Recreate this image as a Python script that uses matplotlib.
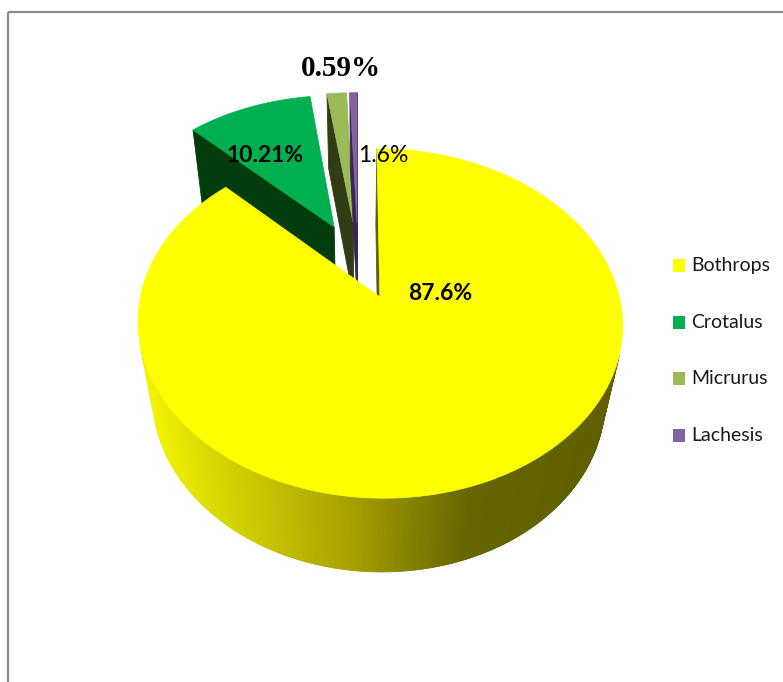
import numpy as np
import matplotlib.pyplot as plt
from matplotlib.patches import Polygon, Rectangle

species = ['Bothrops', 'Crotalus', 'Micrurus', 'Lachesis']
share = [87.6, 10.21, 1.6, 0.59]
top_colors = ['#ffff00', '#00b050', '#9bbb59', '#8064a2']
cut_colors = ['#5f5f00', '#003c0c', '#323c14', '#3a2458']

# where each percentage label sits (pixels) and how it is written
label_xy = [(440, 293), (265, 156), (383, 155), (341, 68)]
label_font = [
    dict(family='Lato', weight='bold', size=16.5),
    dict(family='Lato', weight='bold', size=16.5),
    dict(family='Lato', weight='normal', size=16.5),
    dict(family='Liberation Serif', weight='bold', size=21),
]

# side wall shading of the big slice, by screen x
shade_x = [138, 213, 340, 473, 623]
shade_rg = [[245, 215, 170, 100, 95], [245, 215, 165, 100, 95]]

# camera for the tilted 3d pie
phi = np.radians(43.6)
f = 1144.6
D0 = 4.94
cx, cy = 358, 260.3
depth = 0.487
explode = 0.24
cam_z = -D0 * np.cos(phi)


def project(X, Z, Y=0.0):
    yc = Y * np.cos(phi) + Z * np.sin(phi)
    zc = D0 + Z * np.cos(phi) - Y * np.sin(phi)
    return cx + f * X / zc, cy - f * yc / zc


def faces_camera(nx, nz, px, pz):
    return nx * (0 - px) + nz * (cam_z - pz) > 0


def wall_color(x):
    r = np.interp(x, shade_x, shade_rg[0]) / 255
    g = np.interp(x, shade_x, shade_rg[1]) / 255
    return (r, g, 0)


fig = plt.figure(figsize=(7.83, 6.82), dpi=100)
ax = fig.add_axes([0, 0, 1, 1])
ax.set_xlim(0, 783)
ax.set_ylim(682, 0)
ax.axis('off')

bounds = np.cumsum([0] + share) / sum(share) * 360

# back slices first, big slice last
for i in [1, 2, 3, 0]:
    a0, a1 = bounds[i], bounds[i + 1]
    m = np.radians((a0 + a1) / 2)
    ox, oz = explode * np.sin(m), explode * np.cos(m)
    t = np.radians(np.linspace(a0, a1, max(int((a1 - a0) * 2), 2) + 1))
    rx, rz = ox + np.sin(t), oz + np.cos(t)
    tx, ty = project(rx, rz)
    bx, by = project(rx, rz, -depth)

    # outer wall
    for k in range(len(t) - 1):
        tm = (t[k] + t[k + 1]) / 2
        if faces_camera(np.sin(tm), np.cos(tm), ox + np.sin(tm), oz + np.cos(tm)):
            pts = [(tx[k], ty[k]), (tx[k + 1], ty[k + 1]),
                   (bx[k + 1], by[k + 1]), (bx[k], by[k])]
            c = wall_color((tx[k] + tx[k + 1]) / 2) if i == 0 else cut_colors[i]
            ax.add_patch(Polygon(pts, closed=True, fc=c, ec=c, lw=0.6))

    # cut faces along the two radii
    apx, apy = project(ox, oz)
    abx, aby = project(ox, oz, -depth)
    for a, sgn in ((a0, -1), (a1, 1)):
        na = np.radians(a) + sgn * np.pi / 2
        if faces_camera(np.sin(na), np.cos(na), ox, oz):
            ex, ey = project(ox + np.sin(np.radians(a)), oz + np.cos(np.radians(a)))
            fx, fy = project(ox + np.sin(np.radians(a)), oz + np.cos(np.radians(a)), -depth)
            pts = [(apx, apy), (ex, ey), (fx, fy), (abx, aby)]
            ax.add_patch(Polygon(pts, closed=True, fc=cut_colors[i],
                                 ec=cut_colors[i], lw=0.6))

    # top face
    pts = [(apx, apy)] + list(zip(tx, ty))
    ax.add_patch(Polygon(pts, closed=True, fc=top_colors[i], ec=top_colors[i], lw=0.5))

for v, (lx, ly), fnt in zip(share, label_xy, label_font):
    ax.text(lx, ly, f'{v:g}%', ha='center', va='center', color='black', **fnt)

# legend
for k, (name, col) in enumerate(zip(species, top_colors)):
    ly = 266 + k * 56.5
    ax.add_patch(Rectangle((673, ly - 7), 12, 13, fc=col, ec='none'))
    ax.text(691, ly, name, ha='left', va='center', fontsize=14,
            family='Lato', color='#1a1a1a')

# chart area border (runs off the right and bottom)
ax.plot([8, 800], [12, 12], color='#8c8c8c', lw=1.6, solid_capstyle='butt')
ax.plot([8, 8], [12, 700], color='#8c8c8c', lw=1.6, solid_capstyle='butt')

fig.savefig('out.png', dpi=100)
